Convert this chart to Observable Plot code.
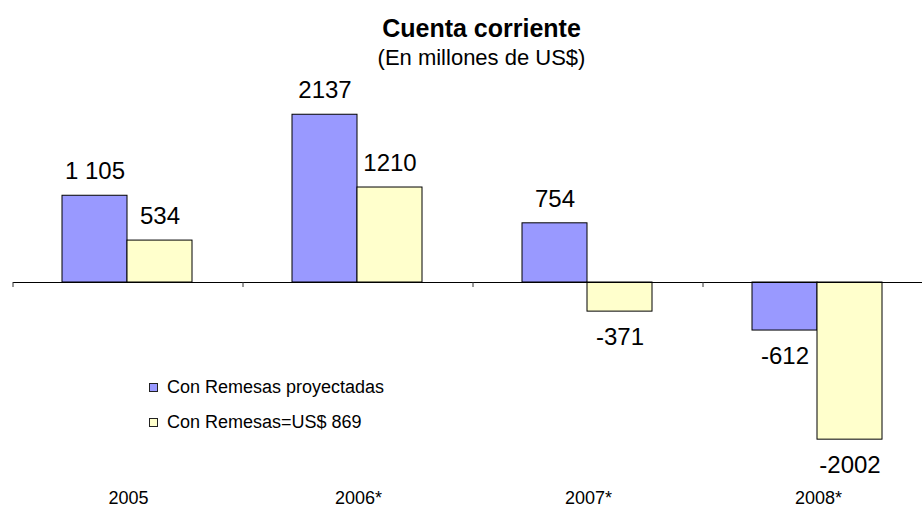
<!DOCTYPE html>
<html>
<head>
<meta charset="utf-8">
<script src="https://cdn.jsdelivr.net/npm/d3@7"></script>
<script src="https://cdn.jsdelivr.net/npm/@observablehq/plot@0.6"></script>
<style>
  html, body { margin: 0; padding: 0; background: white; }
  #wrap { position: relative; width: 922px; height: 511px; overflow: hidden; font-family: "Liberation Sans", Arial, sans-serif; }
  #wrap svg { position: absolute; left: 0; top: 0; }
  .title { position: absolute; left: 0; width: 963px; text-align: center; color: #000; white-space: nowrap; }
  #t1 { top: 13px; font-size: 25px; font-weight: bold; line-height: 30px; }
  #t2 { top: 45px; font-size: 22px; line-height: 26px; }
  .leg { position: absolute; left: 149px; font-size: 18px; line-height: 20px; white-space: nowrap; color: #000; }
  .leg span.sw { display: inline-block; width: 7px; height: 7px; border: 1px solid #222; margin-right: 9px; vertical-align: 1px; }
</style>
</head>
<body>
<div id="wrap">
  <div class="title" id="t1">Cuenta corriente</div>
  <div class="title" id="t2">(En millones de US$)</div>
</div>
<script>
const categories = ["2005", "2006*", "2007*", "2008*"];
const series = ["Con Remesas proyectadas", "Con Remesas=US$ 869"];
const proyectadas = [1105, 2137, 754, -612];
const fijas = [534, 1210, -371, -2002];
const labelsProyectadas = ["1 105", "2137", "754", "-612"];
const labelsFijas = ["534", "1210", "-371", "-2002"];
const colors = ["#9999FF", "#FFFFCC"];

const data = [];
categories.forEach((c, i) => {
  data.push({cat: c, series: series[0], value: proyectadas[i], label: labelsProyectadas[i]});
  data.push({cat: c, series: series[1], value: fijas[i], label: labelsFijas[i]});
});

const font = '"Liberation Sans", Arial, sans-serif';

const plot = Plot.plot({
  width: 922,
  height: 511,
  marginTop: 0,
  marginBottom: 8,
  marginLeft: 12,
  marginRight: 0,
  style: {fontFamily: font, background: "transparent", overflow: "hidden", color: "#000"},
  facet: {marginTop: 0, marginRight: 0, marginBottom: 0, marginLeft: 0},
  fx: {domain: categories, range: [12, 934], padding: 0, axis: null, label: null},
  x: {domain: series, paddingInner: 0, paddingOuter: 0.746, align: 0.49, axis: null, label: null},
  y: {domain: [-2500, 2500], range: [478.25, 85.75], axis: null, label: null},
  color: {domain: series, range: colors},
  marks: [
    Plot.barY(data, {fx: "cat", x: "series", y: "value", fill: "series", stroke: "#000", strokeWidth: 1}),
    Plot.ruleY([0], {stroke: "#000", strokeWidth: 1}),
    Plot.text(data.filter(d => d.value >= 0), {fx: "cat", x: "series", y: "value", text: "label", dy: -24, fontSize: 24, fill: "#000"}),
    Plot.text(data.filter(d => d.value < 0), {fx: "cat", x: "series", y: "value", text: "label", dy: 26, fontSize: 24, fill: "#000"}),
    Plot.text(categories, {fx: d => d, text: d => d, frameAnchor: "bottom", fontSize: 18, fill: "#000"})
  ]
});

document.getElementById("wrap").prepend(plot);

// category boundary ticks on the zero line, placed with Plot's own scales
const fxs = plot.scale("fx");
const ys = plot.scale("y");
const y0 = ys.apply(0);
const edges = categories.map(c => fxs.apply(c));
edges.push(fxs.apply(categories[categories.length - 1]) + fxs.bandwidth);
d3.select(plot).append("g")
  .selectAll("line")
  .data(edges)
  .join("line")
  .attr("x1", d => d).attr("x2", d => d)
  .attr("y1", y0).attr("y2", y0 + 5)
  .attr("stroke", "#333")
  .attr("stroke-width", 1);

// legend
const wrap = document.getElementById("wrap");
const legTops = [377, 412];
series.forEach((s, i) => {
  const div = document.createElement("div");
  div.className = "leg";
  div.style.top = legTops[i] + "px";
  const sw = document.createElement("span");
  sw.className = "sw";
  sw.style.background = colors[i];
  div.appendChild(sw);
  div.appendChild(document.createTextNode(s));
  wrap.appendChild(div);
});
</script>
</body>
</html>
